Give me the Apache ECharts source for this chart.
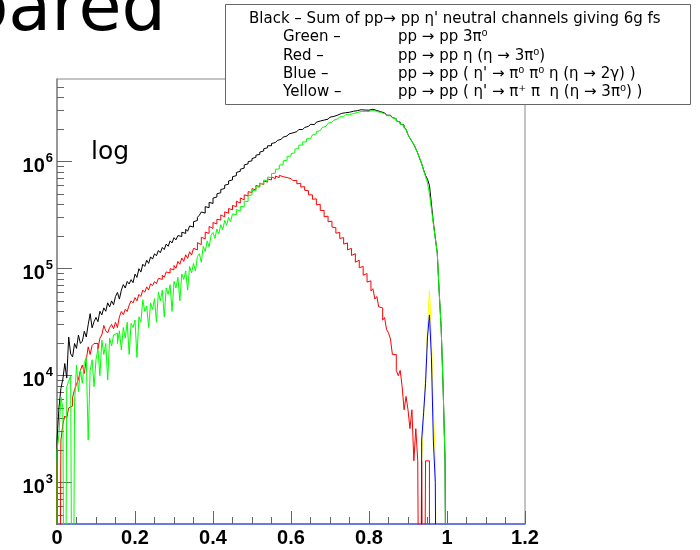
<!DOCTYPE html>
<html><head><meta charset="utf-8">
<script src="https://cdn.jsdelivr.net/npm/echarts@6/dist/echarts.min.js"></script>
<style>html,body{margin:0;padding:0;background:#fff}#c{width:700px;height:550px}</style>
</head><body><div id="c"></div>
<script>
// histogram bin width (x units); bins start at x = 0
const binWidth = 0.005;

// Black - sum of all neutral channels (bins 0..199)
const black = [
2.5e3,5.0e3,7.6e3,9.3e3,1.3e4,9.5e3,2.3e4,1.6e4,1.5e4,2.0e4,
1.8e4,2.4e4,2.0e4,2.1e4,2.6e4,2.3e4,3.0e4,3.8e4,2.8e4,3.2e4,
3.5e4,3.2e4,4.0e4,3.7e4,4.3e4,4.0e4,4.8e4,4.4e4,5.0e4,4.6e4,
5.5e4,6.0e4,5.2e4,6.3e4,7.1e4,6.6e4,7.6e4,7.2e4,7.9e4,7.4e4,
8.9e4,8.3e4,1.0e5,9.3e4,1.1e5,1.05e5,1.2e5,1.12e5,1.29e5,1.23e5,
1.38e5,1.32e5,1.48e5,1.41e5,1.58e5,1.51e5,1.7e5,1.62e5,1.82e5,1.74e5,
1.95e5,1.86e5,2.04e5,2.0e5,2.19e5,2.14e5,2.34e5,2.24e5,2.51e5,2.45e5,
2.75e5,2.82e5,3.02e5,3.16e5,3.39e5,3.31e5,3.8e5,3.72e5,4.17e5,4.07e5,
4.57e5,4.68e5,5.01e5,5.13e5,5.5e5,5.62e5,6.03e5,6.17e5,6.61e5,6.76e5,
7.24e5,7.41e5,7.94e5,8.13e5,8.51e5,8.71e5,9.33e5,9.55e5,1.0e6,1.02e6,
1.07e6,1.1e6,1.15e6,1.17e6,1.23e6,1.26e6,1.32e6,1.35e6,1.41e6,1.41e6,
1.48e6,1.51e6,1.55e6,1.58e6,1.62e6,1.66e6,1.7e6,1.74e6,1.78e6,1.82e6,
1.86e6,1.86e6,1.91e6,1.95e6,2.0e6,2.0e6,2.04e6,2.09e6,2.14e6,2.14e6,
2.24e6,2.22e6,2.29e6,2.34e6,2.4e6,2.38e6,2.45e6,2.51e6,2.5e6,2.57e6,
2.61e6,2.65e6,2.68e6,2.73e6,2.78e6,2.83e6,2.82e6,2.87e6,2.92e6,2.9e6,
2.97e6,2.96e6,3.01e6,3.0e6,3.02e6,3.06e6,3.0e6,3.04e6,3.05e6,3.03e6,
3.02e6,3.09e6,3.01e6,3.01e6,2.93e6,2.93e6,2.86e6,2.86e6,2.78e6,2.72e6,
2.72e6,2.65e6,2.59e6,2.52e6,2.41e6,2.35e6,2.25e6,2.2e6,2.1e6,2.0e6,
1.79e6,1.66e6,1.55e6,1.45e6,1.32e6,1.2e6,1.07e6,9.6e5,8.4e5,7.44e5,
6.86e5,6.01e5,4.03e5,2.71e5,1.94e5,1.41e5,6.03e4,2.82e4,7.9e3,1.6e3
];

// Green - pp -> pp 3pi0 (bins 0..199)
const green = [
2.0e3,2.8e3,6.3e3,5.0e3,0,7.9e3,8.9e3,1.0e4,0,5.6e3,
1.26e4,7.1e3,1.12e4,8.5e3,1.32e4,1.48e4,2.5e3,1.12e4,1.41e4,7.9e3,
1.41e4,1.78e4,1.0e4,2.14e4,1.58e4,2.0e4,9.1e3,2.24e4,1.9e4,2.4e4,
2.5e4,2.0e4,2.63e4,1.74e4,2.82e4,2.24e4,3.16e4,1.58e4,3.09e4,2.82e4,
3.31e4,1.48e4,3.55e4,3.16e4,5.13e4,4.0e4,4.47e4,2.82e4,4.79e4,4.17e4,
5.25e4,3.16e4,6.03e4,5.01e4,6.31e4,3.55e4,6.61e4,5.75e4,7.08e4,3.98e4,
7.59e4,6.61e4,8.32e4,5.01e4,8.91e4,7.94e4,9.55e4,6.31e4,1.05e5,9.12e4,
1.12e5,9.5e4,1.3e5,1.38e5,1.15e5,1.62e5,1.45e5,1.82e5,1.6e5,2.05e5,
2.18e5,1.92e5,2.35e5,2.12e5,2.58e5,2.32e5,2.82e5,2.55e5,3.02e5,2.75e5,
3.25e5,3.2e5,3.58e5,3.45e5,3.82e5,3.78e5,4.28e5,4.25e5,4.8e5,4.9e5,
5.4e5,5.35e5,5.9e5,5.75e5,6.3e5,6.15e5,6.75e5,6.6e5,7.2e5,7.1e5,
7.75e5,7.8e5,8.5e5,8.55e5,9.3e5,9.4e5,1.02e6,1.03e6,1.12e6,1.13e6,
1.19e6,1.21e6,1.31e6,1.33e6,1.43e6,1.43e6,1.53e6,1.53e6,1.64e6,1.64e6,
1.7e6,1.78e6,1.82e6,1.91e6,1.95e6,2.0e6,2.09e6,2.14e6,2.19e6,2.29e6,
2.34e6,2.4e6,2.45e6,2.51e6,2.57e6,2.63e6,2.63e6,2.69e6,2.75e6,2.75e6,
2.82e6,2.82e6,2.88e6,2.88e6,2.9e6,2.95e6,2.9e6,2.95e6,2.96e6,2.95e6,
2.95e6,3.02e6,2.95e6,2.95e6,2.88e6,2.88e6,2.82e6,2.82e6,2.75e6,2.69e6,
2.69e6,2.63e6,2.57e6,2.51e6,2.4e6,2.34e6,2.24e6,2.19e6,2.09e6,2.0e6,
1.78e6,1.66e6,1.55e6,1.45e6,1.32e6,1.2e6,1.07e6,9.55e5,8.32e5,7.24e5,
6.31e5,5.01e5,3.63e5,2.63e5,1.91e5,1.41e5,6.03e4,2.82e4,7.9e3,1.6e3
];

// Red - pp -> pp eta (eta -> 3pi0) (bins 0..190)
const red = [
1.6e3,0,2.5e3,3.5e3,4.2e3,4.0e3,5.0e3,5.2e3,6.3e3,7.4e3,
8.3e3,9.3e3,1.12e4,1.26e4,1.05e4,1.41e4,1.86e4,1.58e4,1.91e4,2.0e4,
2.0e4,1.78e4,2.24e4,2.4e4,2.95e4,2.63e4,2.51e4,2.82e4,3.02e4,2.75e4,
3.16e4,2.82e4,3.55e4,3.98e4,3.72e4,4.17e4,3.98e4,4.57e4,5.01e4,4.79e4,
5.37e4,5.01e4,5.75e4,5.5e4,6.31e4,6.03e4,6.76e4,6.31e4,7.24e4,6.92e4,
7.59e4,7.24e4,8.13e4,7.94e4,8.71e4,8.32e4,9.33e4,9.12e4,1.0e5,9.77e4,
1.07e5,1.01e5,1.17e5,1.1e5,1.26e5,1.17e5,1.35e5,1.25e5,1.44e5,1.34e5,
1.55e5,1.5e5,1.75e5,1.68e5,1.97e5,1.9e5,2.2e5,2.14e5,2.48e5,2.38e5,
2.7e5,2.62e5,2.9e5,2.85e5,3.18e5,3.05e5,3.4e5,3.3e5,3.65e5,3.55e5,
3.9e5,3.8e5,4.28e5,4.1e5,4.58e5,4.4e5,4.9e5,4.8e5,5.25e5,5.15e5,
5.6e5,5.45e5,6.0e5,5.85e5,6.3e5,6.1e5,6.6e5,6.45e5,6.9e5,6.75e5,
7.2e5,6.95e5,7.35e5,7.1e5,7.45e5,7.25e5,7.4e5,7.1e5,7.2e5,6.95e5,
7.0e5,6.65e5,6.7e5,6.2e5,6.3e5,5.8e5,5.85e5,5.4e5,5.35e5,4.9e5,
4.9e5,4.45e5,4.5e5,3.95e5,4.0e5,3.5e5,3.5e5,3.05e5,3.1e5,2.75e5,
2.78e5,2.45e5,2.42e5,2.15e5,2.18e5,1.92e5,1.95e5,1.7e5,1.74e5,1.5e5,
1.55e5,1.33e5,1.38e5,1.15e5,1.2e5,1.02e5,1.05e5,8.7e4,9.0e4,7.5e4,
7.7e4,6.2e4,6.5e4,5.2e4,5.5e4,4.4e4,4.3e4,3.3e4,3.5e4,2.7e4,
2.51e4,2.2e4,1.58e4,1.58e4,1.12e4,1.0e4,1.12e4,7.9e3,4.8e3,6.4e3,
4.8e3,3.2e3,4.8e3,1.6e3,3.2e3,1.6e3,0,1.6e3,0,1.6e3,
1.6e3
];

// Blue and Yellow - narrow eta' peaks, first bin index given
const blueStart = 187;
const blue = [2.5e3,4.5e3,8.5e3,2.3e4,3.7e4,1.5e4,2.5e3,1.0e3];
const yellowStart = 187;
const yellow = [1.5e3,4.0e3,1.0e4,3.0e4,6.3e4,2.5e4,5.0e3,1.6e3];

// axis tick values
const yMajor = [1e3,1e4,1e5,1e6];
const yMinor = [500,600,700,800,900,
  2000,3000,4000,5000,6000,7000,8000,9000,
  20000,30000,40000,50000,60000,70000,80000,90000,
  200000,300000,400000,500000,600000,700000,800000,900000,
  2000000,3000000,4000000,5000000];

const legendLines = [
  ['Black \u2013 Sum of pp\u2192 pp \u03b7\' neutral channels giving 6g fs', ''],
  ['Green \u2013', 'pp \u2192 pp 3\u03c0\u2070'],
  ['Red \u2013', 'pp \u2192 pp \u03b7 (\u03b7 \u2192 3\u03c0\u2070)'],
  ['Blue \u2013', 'pp \u2192 pp ( \u03b7\' \u2192 \u03c0\u2070 \u03c0\u2070 \u03b7 (\u03b7 \u2192 2\u03b3) )'],
  ['Yellow \u2013', 'pp \u2192 pp ( \u03b7\' \u2192 \u03c0\u207a \u03c0  \u03b7 (\u03b7 \u2192 3\u03c0\u2070) )']
];

const YMIN = 411, YMAX = 5.93e6, FLOOR = 1;

function hist(vals, start) {
  const pts = [[start * binWidth, FLOOR]];
  for (let i = 0; i < vals.length; i++) {
    pts.push([(start + i) * binWidth, vals[i] > 0 ? vals[i] : FLOOR]);
  }
  pts.push([(start + vals.length) * binWidth, FLOOR]);
  return pts;
}
function ser(vals, start, color) {
  return {type:'line', step:'end', data: hist(vals, start), showSymbol:false, symbol:'none',
    lineStyle:{color: color, width:1}, clip:true, silent:true, animation:false, yAxisIndex:0};
}

const chart = echarts.init(document.getElementById('c'), null, {renderer:'canvas'});
const graphics = [
  {type:'text', x:166, y:12, z:100, style:{text:'pared', font:'70px "DejaVu Sans"', fill:'#000', textAlign:'right', textVerticalAlign:'middle', verticalAlign:'middle'}},
  {type:'text', x:91, y:152, z:100, style:{text:'log', font:'25px "DejaVu Sans"', fill:'#000', textAlign:'left', textVerticalAlign:'middle', verticalAlign:'middle'}},
  {type:'rect', z:100, shape:{x:225.5, y:4.5, width:465, height:100}, style:{fill:'#fff', stroke:'#666', lineWidth:1}}
];
const rowsY = [19, 37, 56, 74, 92];
legendLines.forEach((ln, k) => {
  const x0 = k === 0 ? 249 : 283;
  graphics.push({type:'text', x:x0, y:rowsY[k], z:101, style:{text:ln[0], font:'15px "DejaVu Sans"', fill:'#000', textAlign:'left', textVerticalAlign:'middle', verticalAlign:'middle'}});
  if (ln[1]) graphics.push({type:'text', x:398, y:rowsY[k], z:101, style:{text:ln[1], font:'15px "DejaVu Sans"', fill:'#000', textAlign:'left', textVerticalAlign:'middle', verticalAlign:'middle'}});
});

chart.setOption({
  animation:false,
  backgroundColor:'#fff',
  grid:{left:57, right:175, top:79, bottom:26, show:true, borderColor:'#888', borderWidth:1, containLabel:false, outerBoundsMode:'none'},
  xAxis:{type:'value', min:0, max:1.2, interval:0.2,
    axisLine:{show:true, onZero:false, lineStyle:{color:'#5060f0', width:1.5}},
    axisTick:{show:true, inside:true, length:13, lineStyle:{color:'#666'}},
    minorTick:{show:true, splitNumber:4, length:7, lineStyle:{color:'#666'}},
    axisLabel:{fontSize:20, fontWeight:'bold', color:'#000', fontFamily:'"Liberation Sans", Arial, sans-serif', margin:4},
    splitLine:{show:false}, minorSplitLine:{show:false}},
  yAxis:[{type:'log', min:YMIN, max:YMAX, position:'left',
    axisLine:{show:true, lineStyle:{color:'#888', width:1.5}},
    axisTick:{show:true, inside:true, length:15, customValues:yMajor, lineStyle:{color:'#666'}},
    axisLabel:{customValues:yMajor, margin:4,
      formatter: v => '{b|10}{s|' + Math.round(Math.log10(v)) + '}',
      rich:{
        b:{fontSize:20, fontWeight:'bold', color:'#000', fontFamily:'"Liberation Sans", Arial, sans-serif', verticalAlign:'bottom', lineHeight:30},
        s:{fontSize:13, fontWeight:'bold', color:'#000', fontFamily:'"Liberation Sans", Arial, sans-serif', verticalAlign:'top', padding:[5,0,0,1]}
      }},
    splitLine:{show:false}, minorTick:{show:false}, minorSplitLine:{show:false}},
   {type:'log', min:YMIN, max:YMAX, position:'left',
    axisLine:{show:false},
    axisTick:{show:true, inside:true, length:7, customValues:yMinor, lineStyle:{color:'#666'}},
    axisLabel:{show:false}, splitLine:{show:false}}],
  series:[
    ser(black, 0, '#000000'),
    ser(red, 0, '#ff0000'),
    ser(green, 0, '#00ff00'),
    ser(yellow, yellowStart, '#ffff00'),
    ser(blue, blueStart, '#0000ff')
  ],
  graphic: graphics
});
</script></body></html>
